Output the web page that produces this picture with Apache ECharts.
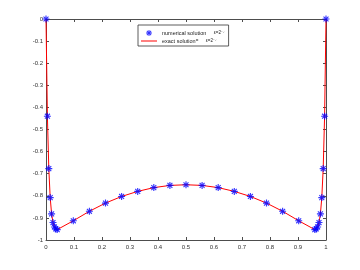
<!DOCTYPE html>
<html>
<head>
<meta charset="utf-8">
<script src="https://cdn.jsdelivr.net/npm/echarts@6/dist/echarts.min.js"></script>
<style>html,body{margin:0;padding:0;background:#fff}#c{width:360px;height:270px}</style>
</head>
<body>
<div id="c"></div>
<script>
// mesh points
var xPoints = [0, 0.005, 0.01, 0.015, 0.02, 0.025, 0.03, 0.035, 0.04,
  0.0975, 0.155, 0.2125, 0.27, 0.3275, 0.385, 0.4425, 0.5,
  0.5575, 0.615, 0.6725, 0.73, 0.7875, 0.845, 0.9025,
  0.96, 0.965, 0.97, 0.975, 0.98, 0.985, 0.99, 0.995, 1];
var numericalValues = [0, -0.440, -0.677, -0.808, -0.882, -0.921, -0.941, -0.950, -0.953,
  -0.913, -0.870, -0.833, -0.803, -0.780, -0.763, -0.753, -0.750,
  -0.753, -0.763, -0.780, -0.803, -0.833, -0.870, -0.913,
  -0.953, -0.950, -0.941, -0.921, -0.882, -0.808, -0.677, -0.440, 0];
var exactValues = [0, -0.440, -0.677, -0.808, -0.882, -0.921, -0.941, -0.950, -0.953,
  -0.913, -0.870, -0.833, -0.803, -0.780, -0.763, -0.753, -0.750,
  -0.753, -0.763, -0.780, -0.803, -0.833, -0.870, -0.913,
  -0.953, -0.950, -0.941, -0.921, -0.882, -0.808, -0.677, -0.440, 0];
var seriesNames = ['numerical solution', 'exact solution'];
var legendSuffix = ['      ε=2⁻⁷', '=      ε=2⁻⁷'];

var starPath = 'path://M-0.16,-1 L0.16,-1 L0.16,1 L-0.16,1 Z M-1,-0.16 L1,-0.16 L1,0.16 L-1,0.16 Z ' +
  'M-0.594,-0.820 L0.820,0.594 L0.594,0.820 L-0.820,-0.594 Z ' +
  'M0.594,-0.820 L0.820,-0.594 L-0.594,0.820 L-0.820,0.594 Z';

function pairs(xs, ys) { return xs.map(function (x, i) { return [x, ys[i]]; }); }

var axisColor = '#4d4d4d';
var fontFamily = 'Liberation Sans, Arial, sans-serif';
var chart = echarts.init(document.getElementById('c'), null, {renderer: 'canvas'});
chart.setOption({
  animation: false,
  backgroundColor: '#ffffff',
  grid: {left: 46, right: 34, top: 19, bottom: 30, containLabel: false},
  legend: {
    orient: 'vertical',
    left: 138, top: 25,
    padding: [5, 4, 2, 3],
    itemGap: 2,
    itemWidth: 16, itemHeight: 6,
    borderColor: '#333', borderWidth: 0.8,
    backgroundColor: '#fff',
    data: [
      {name: seriesNames[0], icon: starPath},
      {name: seriesNames[1], icon: 'path://M0,0 L32,0 L32,2 L0,2 Z'}
    ],
    formatter: function (name) {
      var i = seriesNames.indexOf(name);
      return '{a|' + name + '}{b|' + legendSuffix[i] + '}';
    },
    textStyle: {
      fontFamily: fontFamily,
      rich: {
        a: {fontSize: 5.5, color: '#222', fontFamily: fontFamily, lineHeight: 7},
        b: {fontSize: 4.5, color: '#222', fontFamily: fontFamily, lineHeight: 7}
      }
    }
  },
  xAxis: [{
    type: 'value', min: 0, max: 1, interval: 0.1, position: 'bottom',
    axisLine: {onZero: false, lineStyle: {color: axisColor, width: 1}},
    axisTick: {inside: true, length: 3, lineStyle: {color: axisColor}},
    axisLabel: {fontSize: 6, color: '#333', margin: 4, fontFamily: fontFamily},
    splitLine: {show: false}
  }, {
    type: 'value', min: 0, max: 1, interval: 0.1, position: 'top',
    axisLine: {onZero: false, lineStyle: {color: axisColor, width: 1}},
    axisTick: {inside: true, length: 3, lineStyle: {color: axisColor}},
    axisLabel: {show: false},
    splitLine: {show: false}
  }],
  yAxis: [{
    type: 'value', min: -1, max: 0, interval: 0.1, position: 'left',
    axisLine: {show: true, onZero: false, lineStyle: {color: axisColor, width: 1}},
    axisTick: {show: true, inside: true, length: 3, lineStyle: {color: axisColor}},
    axisLabel: {fontSize: 6, color: '#333', margin: 3, fontFamily: fontFamily},
    splitLine: {show: false}
  }, {
    type: 'value', min: -1, max: 0, interval: 0.1, position: 'right',
    axisLine: {show: true, onZero: false, lineStyle: {color: axisColor, width: 1}},
    axisTick: {show: true, inside: true, length: 3, lineStyle: {color: axisColor}},
    axisLabel: {show: false},
    splitLine: {show: false}
  }],
  series: [{
    name: seriesNames[1],
    type: 'line',
    data: pairs(xPoints, exactValues),
    showSymbol: false,
    symbol: 'none',
    lineStyle: {color: '#ff0000', width: 1},
    itemStyle: {color: '#ff0000'},
    z: 2
  }, {
    name: seriesNames[0],
    type: 'scatter',
    data: pairs(xPoints, numericalValues),
    symbol: starPath,
    symbolSize: 7,
    itemStyle: {color: '#0000ff'},
    z: 3
  }]
});
</script>
</body>
</html>
